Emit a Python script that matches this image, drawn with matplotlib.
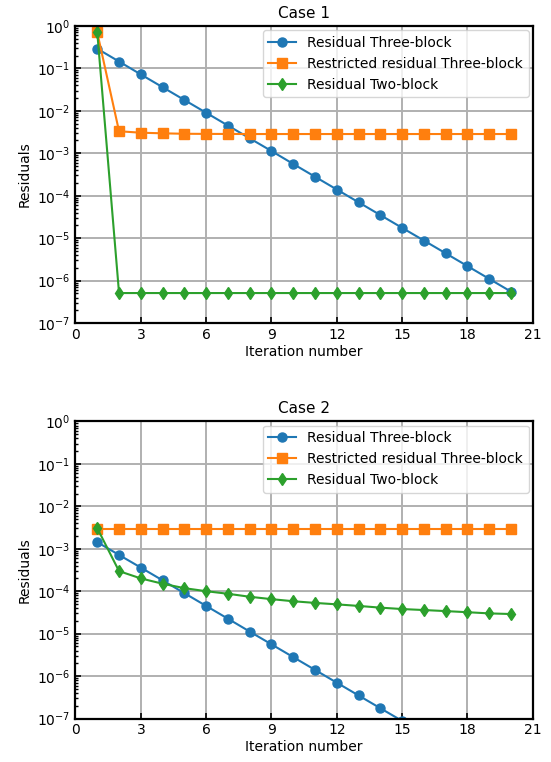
import matplotlib
matplotlib.use("Agg")
import matplotlib.pyplot as plt
from matplotlib.ticker import LogLocator, NullFormatter
import numpy as np

iters = np.arange(1, 21)

# Case 1
c1_three = [2.9e-1, 1.45e-1, 7.2e-2, 3.6e-2, 1.8e-2, 9.0e-3, 4.5e-3, 2.25e-3, 1.13e-3, 5.6e-4,
            2.8e-4, 1.4e-4, 7.0e-5, 3.5e-5, 1.75e-5, 8.8e-6, 4.4e-6, 2.2e-6, 1.1e-6, 5.5e-7]
c1_restricted = [7.0e-1, 3.3e-3, 3.05e-3, 2.95e-3, 2.88e-3, 2.86e-3, 2.85e-3, 2.84e-3, 2.84e-3, 2.84e-3,
                 2.84e-3, 2.84e-3, 2.84e-3, 2.84e-3, 2.84e-3, 2.84e-3, 2.84e-3, 2.84e-3, 2.84e-3, 2.84e-3]
c1_two = [7.0e-1, 5.1e-7, 5.1e-7, 5.1e-7, 5.1e-7, 5.1e-7, 5.1e-7, 5.1e-7, 5.1e-7, 5.1e-7,
          5.1e-7, 5.1e-7, 5.1e-7, 5.1e-7, 5.1e-7, 5.1e-7, 5.1e-7, 5.1e-7, 5.1e-7, 5.1e-7]

# Case 2
c2_three = [1.43e-3, 7.15e-4, 3.6e-4, 1.8e-4, 9.0e-5, 4.5e-5, 2.25e-5, 1.12e-5, 5.6e-6, 2.8e-6,
            1.4e-6, 7.0e-7, 3.5e-7, 1.75e-7, 8.8e-8, 4.4e-8, 2.2e-8, 1.1e-8, 5.5e-9, 2.7e-9]
c2_restricted = [2.88e-3] * 20
c2_two = [3.05e-3, 2.97e-4, 2.0e-4, 1.5e-4, 1.18e-4, 1.0e-4, 8.7e-5, 7.4e-5, 6.5e-5, 5.8e-5,
          5.3e-5, 4.9e-5, 4.5e-5, 4.1e-5, 3.8e-5, 3.6e-5, 3.4e-5, 3.2e-5, 3.0e-5, 2.9e-5]

labels = ['Residual Three-block', 'Restricted residual Three-block', 'Residual Two-block']

fig = plt.figure(figsize=(5.51, 7.62), dpi=100)
ax1 = fig.add_axes([0.137, 0.576, 0.830, 0.390])
ax2 = fig.add_axes([0.137, 0.057, 0.830, 0.390])

for ax, title, data in [(ax1, 'Case 1', (c1_three, c1_restricted, c1_two)),
                        (ax2, 'Case 2', (c2_three, c2_restricted, c2_two))]:
    ax.semilogy(iters, data[0], '-o', color='#1f77b4', label=labels[0], markersize=6.5, lw=1.5)
    ax.semilogy(iters, data[1], '-s', color='#ff7f0e', label=labels[1], markersize=6.5, lw=1.5)
    ax.semilogy(iters, data[2], '-d', color='#2ca02c', label=labels[2], markersize=6.5, lw=1.5)
    ax.set_xlim(0, 21)
    ax.set_ylim(1e-7, 1e0)
    ax.set_xticks(np.arange(0, 22, 3))
    ax.set_yticks([10.0**k for k in range(-7, 1)])
    ax.yaxis.set_minor_locator(LogLocator(base=10, subs=np.arange(2, 10), numticks=100))
    ax.yaxis.set_minor_formatter(NullFormatter())
    ax.grid(True, which='major', color='#b0b0b0', lw=1.4)
    ax.tick_params(which='both', direction='in', labelsize=10)
    ax.tick_params(which='major', length=4, width=1.2)
    ax.tick_params(which='minor', length=2.5, width=1.0)
    for s in ax.spines.values():
        s.set_linewidth(1.6)
    ax.set_title(title, fontsize=11)
    ax.set_xlabel('Iteration number', fontsize=10, labelpad=2)
    ax.set_ylabel('Residuals', fontsize=10)
    ax.legend(loc='upper right', fontsize=10, framealpha=0.8, handlelength=2.0, borderaxespad=0.3)

fig.savefig('out.png', dpi=100)
